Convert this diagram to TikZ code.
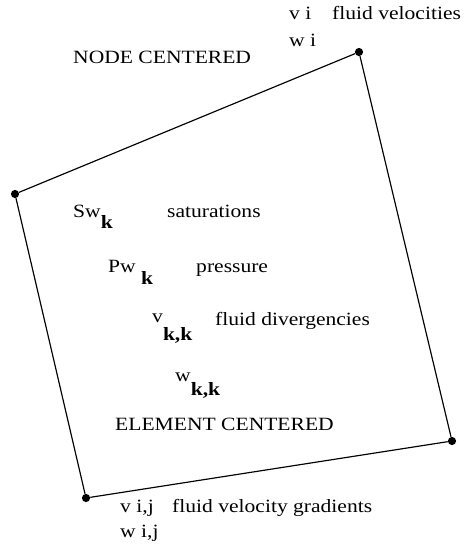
\documentclass[tikz,border=0pt]{standalone}
\usepackage{fontspec}
\setmainfont[FakeStretch=1.15]{Liberation Serif}
\usetikzlibrary{calc}
\tikzstyle{corner}=[circle, fill=black, inner sep=0pt, minimum size=7pt]
\tikzstyle{label}=[anchor=base west, inner sep=0pt, font=\fontsize{16}{18}\selectfont]
\newcommand{\lowsub}[2][10pt]{\raisebox{-#1}{\bfseries #2}}

\begin{document}
\begin{tikzpicture}[x=0.03cm, y=-0.03cm]
	\useasboundingbox (0,0) rectangle (463,549);

	\node[corner] (A) at (359, 52) {};
	\node[corner] (B) at ( 15,194) {};
	\node[corner] (C) at ( 86,498) {};
	\node[corner] (D) at (452,441) {};
	\draw[line width=1pt] (A) -- (B) -- (C) -- (D) -- (A);

	% node centered
	\node[label] (vi)   at (289, 19) {v i};
	\node[label] (wi)   at (289, 46) {w i};
	\node[label] (velo) at (332, 19) {fluid velocities};
	\node[label] (nodec) at (73, 63) {NODE CENTERED};

	% element centered
	\node[label] (sw)   at ( 73,217) {Sw\lowsub[9.5pt]{k}};
	\node[label] (satu) at (167,217) {saturations};
	\node[label] (pw)   at (108,272) {Pw \lowsub[11pt]{k}};
	\node[label] (pres) at (196,272) {pressure};
	\node[label] (vkk)  at (152,325) {\raisebox{2.5pt}{v}\lowsub[13pt]{k,k}};
	\node[label] (divg) at (215,325) {fluid divergencies};
	\node[label] (wkk)  at (175,381) {w\lowsub[12pt]{k,k}};
	\node[label] (elemc) at (115,430) {ELEMENT CENTERED};

	% gradients
	\node[label] (vij)  at (120,512) {v i,j};
	\node[label] (grad) at (172,512) {fluid velocity gradients};
	\node[label] (wij)  at (120,537) {w i,j};
\end{tikzpicture}
\end{document}
